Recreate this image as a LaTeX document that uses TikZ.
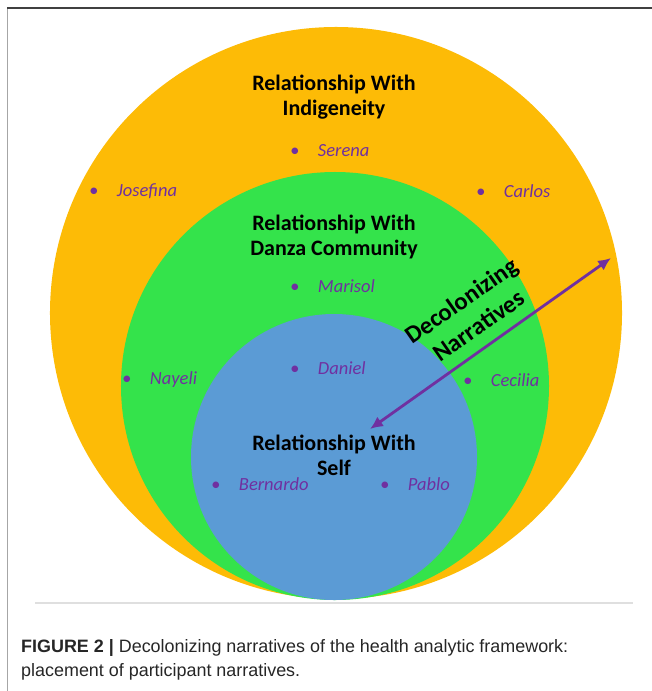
\documentclass[tikz,border=0pt]{standalone}
\usepackage{fontspec}
\setmainfont{Carlito}
\newfontfamily\capfont{Liberation Sans}
\usepackage{tikz}
\usetikzlibrary{positioning,arrows.meta}

\definecolor{ringgold}{HTML}{FDBB06}
\definecolor{ringgreen}{HTML}{34E34B}
\definecolor{ringblue}{HTML}{5B9BD5}
\definecolor{namepurple}{HTML}{7030A0}

\begin{document}
\begin{tikzpicture}[x=0.03cm,y=-0.03cm,>=Latex,
	ring/.style={circle,inner sep=0pt},
	heading/.style={font=\fontsize{18.8}{21.5}\selectfont\bfseries,align=center,inner sep=0pt},
	person/.style={font=\fontsize{15.8}{18}\selectfont\itshape,text=namepurple,anchor=west,inner sep=0pt}]
	\useasboundingbox (0,0) rectangle (652,691);

	% frame
	\draw[gray!70,line width=1.6pt] (7.5,691) -- (7.5,8);
	\draw[black!75,line width=1.6pt] (7,8) -- (652,8);

	% rings
	\node[ring,fill=ringgold,minimum size=17.16cm] (Indig) at (336,313) {};
	\node[ring,fill=ringgreen,minimum size=12.84cm] (Danza) at (335,386) {};
	\node[ring,fill=ringblue,minimum size=8.58cm] (Self) at (334,457) {};

	\node[heading] (IndigTitle) at (334,97) {Relationship With\\Indigeneity};
	\node[heading] (DanzaTitle) at (334,237) {Relationship With\\Danza Community};
	\node[heading] (SelfTitle) at (334,455) {Relationship With\\Self};

	% participants
	\node[person] (Serena) at (290,151) {\textbullet\hspace{1em}Serena};
	\node[person] (Josefina) at (89,191) {\textbullet\hspace{1em}Josefina};
	\node[person] (Carlos) at (476,191) {\textbullet\hspace{1em}Carlos};
	\node[person] (Marisol) at (290,286) {\textbullet\hspace{1em}Marisol};
	\node[person] (Daniel) at (290,368) {\textbullet\hspace{1em}Daniel};
	\node[person] (Nayeli) at (122,380) {\textbullet\hspace{1em}Nayeli};
	\node[person] (Cecilia) at (463,380) {\textbullet\hspace{1em}Cecilia};
	\node[person] (Bernardo) at (211,484) {\textbullet\hspace{1em}Bernardo};
	\node[person] (Pablo) at (380,484) {\textbullet\hspace{1em}Pablo};

	% narratives arrow
	\coordinate (inward) at (370,429);
	\coordinate (outward) at (611,258);
	\draw[namepurple,line width=2.4pt,{Latex[length=11pt,width=10pt]}-{Latex[length=11pt,width=10pt]}] (inward) -- (outward);
	\node[heading,font=\fontsize{21}{26}\selectfont\bfseries,rotate=35] (Decol) at (470,313) {Decolonizing\\Narratives};

	\draw[gray!25,line width=1pt] (35,603) -- (633,603);

	\node[anchor=west,align=left,inner sep=0pt,text=black!85,
		  font=\capfont\fontsize{15.3}{20.6}\selectfont] 
		  (Caption) at (21,660) {\textbf{FIGURE 2 |} Decolonizing narratives of the health analytic framework:\\placement of participant narratives.};
\end{tikzpicture}
\end{document}
